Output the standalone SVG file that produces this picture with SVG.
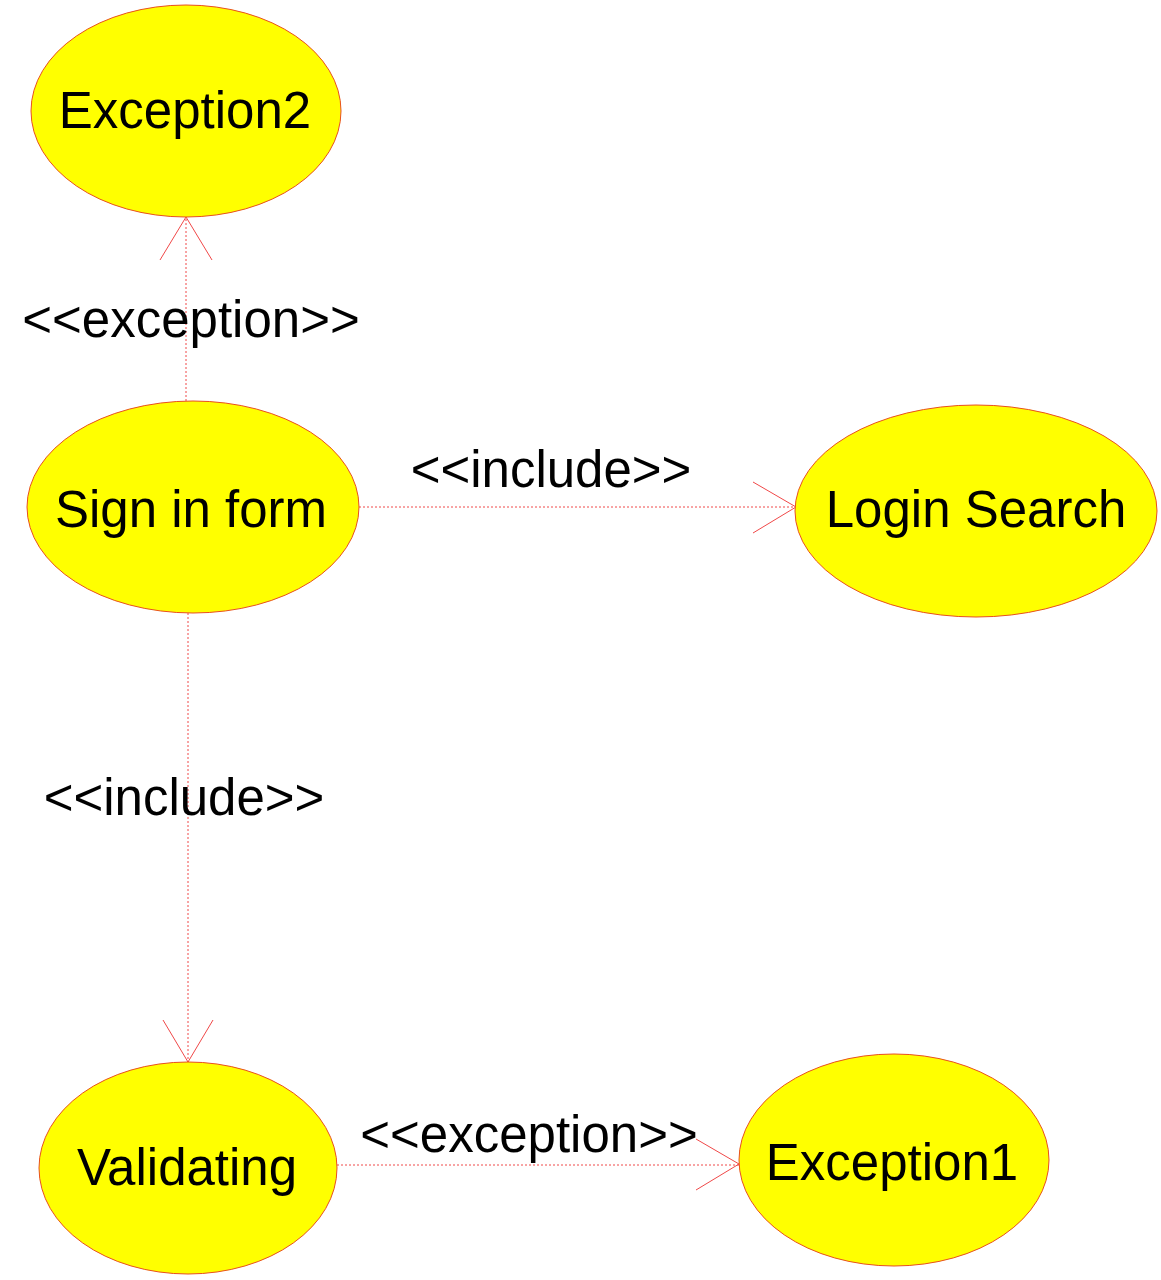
<svg xmlns="http://www.w3.org/2000/svg" width="1161" height="1280" viewBox="0 0 1161 1280">
<style>
.uc{fill:#ffff00;stroke:#e8501e;stroke-width:1}
.t{font-family:"Liberation Sans",Arial,sans-serif;font-size:51px;fill:#000;text-anchor:middle}
.dl{stroke:#f04848;stroke-width:1;stroke-dasharray:2,2;fill:none}
.ah{stroke:#f04848;stroke-width:1;fill:none}
</style>
<rect width="1161" height="1280" fill="#ffffff"/>
<g id="connectors">
<line class="dl" x1="186" y1="401" x2="186" y2="217"/>
<polyline class="ah" points="160,260 186,217 212,260"/>
<text class="t" x="191" y="337">&lt;&lt;exception&gt;&gt;</text>
<line class="dl" x1="359" y1="507" x2="796" y2="507"/>
<polyline class="ah" points="753,482 796,507 753,533"/>
<text class="t" x="551" y="487">&lt;&lt;include&gt;&gt;</text>
<line class="dl" x1="188" y1="613" x2="188" y2="1062"/>
<polyline class="ah" points="163,1020 188,1062 213,1020"/>
<text class="t" x="184" y="815">&lt;&lt;include&gt;&gt;</text>
<line class="dl" x1="337" y1="1165" x2="739" y2="1165"/>
<polyline class="ah" points="696,1139 739,1164 696,1190"/>
<text class="t" x="529" y="1152">&lt;&lt;exception&gt;&gt;</text>
</g>
<g id="exception2">
<ellipse class="uc" cx="186" cy="111" rx="155" ry="106"/>
<text class="t" x="185" y="128">Exception2</text>
</g>
<g id="signin">
<ellipse class="uc" cx="193" cy="507" rx="166" ry="106"/>
<text class="t" x="191" y="527">Sign in form</text>
</g>
<g id="loginsearch">
<ellipse class="uc" cx="976" cy="511" rx="181" ry="106"/>
<text class="t" x="976" y="527">Login Search</text>
</g>
<g id="validating">
<ellipse class="uc" cx="188" cy="1168" rx="149" ry="106"/>
<text class="t" x="187" y="1185">Validating</text>
</g>
<g id="exception1">
<ellipse class="uc" cx="894" cy="1160" rx="155" ry="106"/>
<text class="t" x="892" y="1180">Exception1</text>
</g>
</svg>
